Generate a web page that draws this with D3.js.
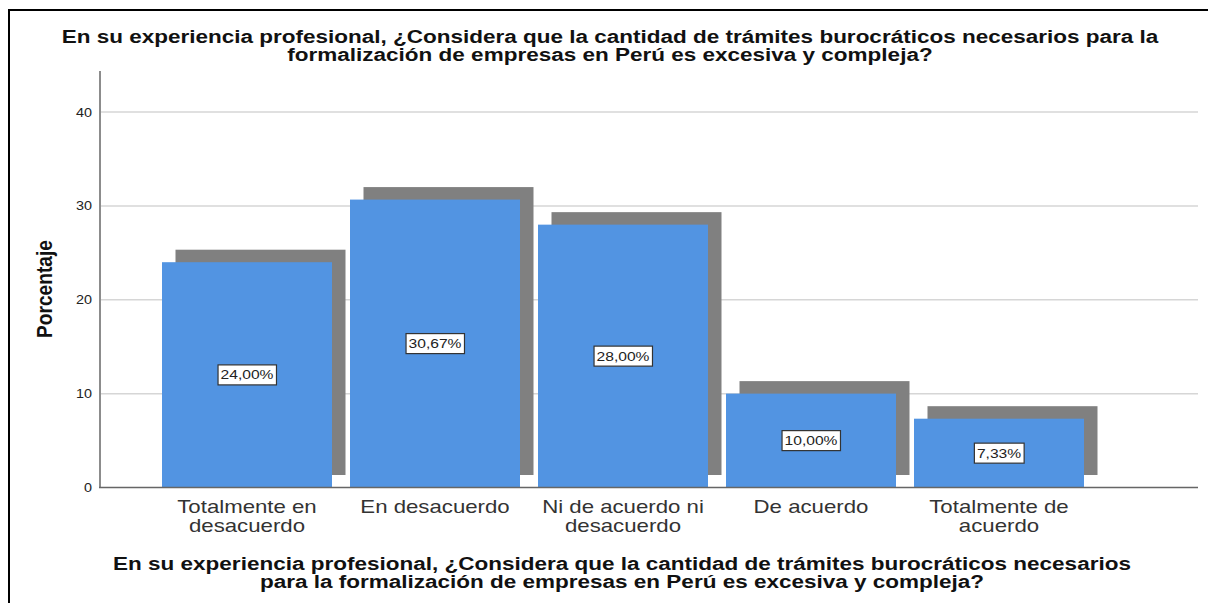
<!DOCTYPE html>
<html>
<head>
<meta charset="utf-8">
<script src="https://cdn.jsdelivr.net/npm/d3@7"></script>
<style>
  body { margin: 0; background: #fff; }
  svg { display: block; font-family: "Liberation Sans", Arial, sans-serif; }
</style>
</head>
<body>
<svg id="chart"></svg>
<script>
// chart data
const categories = ["Totalmente en desacuerdo", "En desacuerdo", "Ni de acuerdo ni desacuerdo", "De acuerdo", "Totalmente de acuerdo"]
const categoryLines = [["Totalmente en", "desacuerdo"], ["En desacuerdo"], ["Ni de acuerdo ni", "desacuerdo"], ["De acuerdo"], ["Totalmente de", "acuerdo"]]
const percents = [24.00, 30.67, 28.00, 10.00, 7.33]
const yTicks = [0, 10, 20, 30, 40]
const titleLines = ["En su experiencia profesional, ¿Considera que la cantidad de trámites burocráticos necesarios para la",
                    "formalización de empresas en Perú es excesiva y compleja?"]
const xTitleLines = ["En su experiencia profesional, ¿Considera que la cantidad de trámites burocráticos necesarios",
                     "para la formalización de empresas en Perú es excesiva y compleja?"]
const yLabel = "Porcentaje"

const width = 1208
const height = 603
const plotLeft = 100
const plotRight = 1198
const blue = "#5294e2"
const shadow = "#808080"
const shadowDx = 13.5, shadowDy = -12.5
const stretch = 1.25 // the original export is drawn a bit wide

// widen a text element horizontally, keeping its glyph shapes
function widen(sel, k) {
  sel.each(function() {
    const n = this.getComputedTextLength()
    d3.select(this).attr("textLength", n * k).attr("lengthAdjust", "spacingAndGlyphs")
  })
}

const svg = d3.select("#chart")
    .attr("width", width)
    .attr("height", height)
    .attr("viewBox", [0, 0, width, height])

// frame (left + top)
svg.append("path")
    .attr("d", `M9,${height} V10 H${width}`)
    .attr("fill", "none")
    .attr("stroke", "#000")
    .attr("stroke-width", 2)

const x = d3.scaleBand()
    .domain(categories)
    .range([153, 1093])
    .paddingInner(18 / 188)
    .paddingOuter(9 / 188)

const y = d3.scaleLinear()
    .domain([0, 40])
    .range([487.5, 112])

// gridlines
svg.append("g")
    .selectAll("line")
    .data(yTicks.filter(d => d > 0))
    .join("line")
      .attr("x1", plotLeft)
      .attr("x2", plotRight)
      .attr("y1", d => y(d))
      .attr("y2", d => y(d))
      .attr("stroke", "#d6d6d6")
      .attr("stroke-width", 1.5)

// y axis
const yAxis = d3.axisLeft(y).tickValues(yTicks).tickSize(0).tickPadding(8)
svg.append("g")
    .attr("transform", `translate(${plotLeft},0)`)
    .call(yAxis)
    .call(g => g.select(".domain").remove())
    .call(g => g.selectAll("text")
        .attr("font-size", 12.5)
        .attr("font-family", "Liberation Sans, Arial, sans-serif")
        .attr("fill", "#222")
        .call(widen, 1.15))

svg.append("line")
    .attr("x1", plotLeft).attr("x2", plotLeft)
    .attr("y1", 71).attr("y2", 488)
    .attr("stroke", "#8c8c8c")
    .attr("stroke-width", 2)

// shadows
svg.append("g")
    .attr("fill", shadow)
  .selectAll("rect")
  .data(percents)
  .join("rect")
    .attr("x", (d, i) => x(categories[i]) + shadowDx)
    .attr("y", d => y(d) + shadowDy)
    .attr("width", x.bandwidth())
    .attr("height", d => y(0) - y(d))

// bars
svg.append("g")
    .attr("fill", blue)
  .selectAll("rect")
  .data(percents)
  .join("rect")
    .attr("x", (d, i) => x(categories[i]))
    .attr("y", d => y(d))
    .attr("width", x.bandwidth())
    .attr("height", d => y(0) - y(d))

// x baseline
svg.append("line")
    .attr("x1", plotLeft - 1).attr("x2", plotRight)
    .attr("y1", y(0)).attr("y2", y(0))
    .attr("stroke", "#666")
    .attr("stroke-width", 1.5)

// value labels
const fmt = v => v.toFixed(2).replace(".", ",") + "%"
const labels = svg.append("g")
  .selectAll("g")
  .data(percents)
  .join("g")
    .attr("transform", (d, i) => `translate(${x(categories[i]) + x.bandwidth() / 2},${y(d / 2)})`)

labels.append("text")
    .attr("text-anchor", "middle")
    .attr("dy", "0.35em")
    .attr("font-size", 13)
    .attr("fill", "#222")
    .text(fmt)
    .call(widen, 1.2)

labels.each(function() {
  const g = d3.select(this)
  const bb = g.select("text").node().getBBox()
  g.insert("rect", "text")
      .attr("x", bb.x - 2.5)
      .attr("y", bb.y - 2.5)
      .attr("width", bb.width + 5)
      .attr("height", bb.height + 5)
      .attr("fill", "#fff")
      .attr("stroke", "#333")
      .attr("stroke-width", 1.2)
})

// category labels
svg.append("g")
  .selectAll("g")
  .data(categories)
  .join("g")
  .selectAll("text")
  .data((d, i) => categoryLines[i].map(t => ({cat: d, t})))
  .join("text")
    .attr("x", d => x(d.cat) + x.bandwidth() / 2)
    .attr("y", (d, i) => 513 + i * 19)
    .attr("text-anchor", "middle")
    .attr("font-size", 18.5)
    .attr("fill", "#333")
    .text(d => d.t)
    .call(widen, 1.2)

// titles
svg.append("g")
  .selectAll("text")
  .data(titleLines)
  .join("text")
    .attr("x", 610)
    .attr("y", (d, i) => 43 + i * 18)
    .attr("text-anchor", "middle")
    .attr("font-size", 18)
    .attr("font-weight", "bold")
    .attr("fill", "#111")
    .text(d => d)
    .call(widen, stretch)

svg.append("g")
  .selectAll("text")
  .data(xTitleLines)
  .join("text")
    .attr("x", 622)
    .attr("y", (d, i) => 570 + i * 18)
    .attr("text-anchor", "middle")
    .attr("font-size", 18)
    .attr("font-weight", "bold")
    .attr("fill", "#111")
    .text(d => d)
    .call(widen, stretch)

// y label
svg.append("text")
    .attr("transform", "translate(52,289) rotate(-90)")
    .attr("text-anchor", "middle")
    .attr("font-size", 22)
    .attr("font-weight", "bold")
    .attr("fill", "#111")
    .text(yLabel)
    .call(widen, 0.87)
</script>
</body>
</html>
